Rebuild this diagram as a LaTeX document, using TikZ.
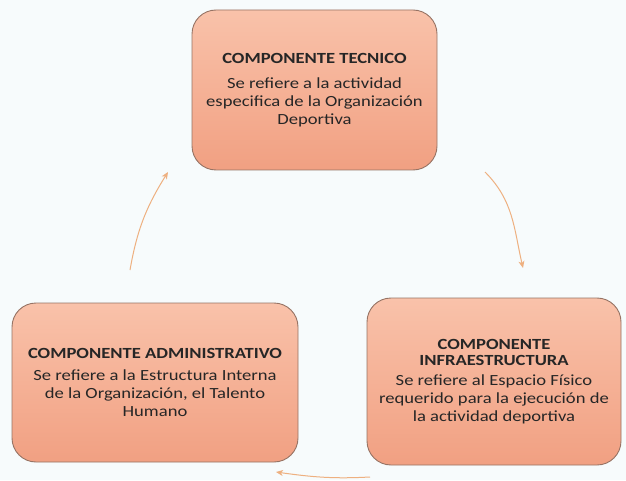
\documentclass[tikz,border=0pt]{standalone}
\usepackage{fontspec}
\setmainfont{Carlito}[FakeStretch=1.2]
\usetikzlibrary{arrows.meta}
\definecolor{fondo}{RGB}{247,251,252}
\definecolor{slx}{RGB}{249,194,170}
\definecolor{srx}{RGB}{241,160,130}
\definecolor{brx}{RGB}{150,115,100}
\definecolor{orx}{RGB}{238,176,128}
\tikzset{
    caja/.style={draw=brx,line width=0.9pt,rounded corners=24pt,top color=slx,bottom color=srx,
        align=center,inner sep=0pt,text=black!85,font=\fontsize{15.5}{17.8}\selectfont},
    flecha/.style={orx,line width=1pt,-{Stealth[length=7pt,width=6pt,inset=2pt]}}
}
\newcommand{\titulo}[1]{{\bfseries #1}}

\begin{document}
\begin{tikzpicture}[x=1pt,y=1pt]
            \fill [fondo] (0,0) rectangle (626,480);
            \useasboundingbox (0,0) rectangle (626,480);
            \node [caja,minimum width=245pt,minimum height=160pt] (tec) at (314.5,390)
                {\titulo{COMPONENTE TECNICO}\\[8pt]
                 Se refiere a la actividad\\
                 especifica de la Organización\\
                 Deportiva};
            \node [caja,minimum width=254pt,minimum height=167pt] (inf) at (494,98.5)
                {\titulo{COMPONENTE}\\[-2pt]
                 \titulo{INFRAESTRUCTURA}\\[3pt]
                 Se refiere al Espacio Físico\\
                 requerido para la ejecución de\\
                 la actividad deportiva};
            \node [caja,minimum width=286pt,minimum height=159pt] (adm) at (155,97.5)
                {\titulo{COMPONENTE ADMINISTRATIVO}\\[4pt]
                 Se refiere a la Estructura Interna\\
                 de la Organización, el Talento\\
                 Humano};
            \coordinate (t1) at (485,308);
            \coordinate (t2) at (523,212);
            \coordinate (i1) at (370,3);
            \coordinate (i2) at (276,8);
            \coordinate (a1) at (130,210);
            \coordinate (a2) at (168,308);
            \draw [flecha] (t1) to [out=-45,in=103] (t2);
            \draw [flecha] (i1) to [out=183,in=-8] (i2);
            \draw [flecha] (a1) to [out=80,in=-122] (a2);
        \end{tikzpicture}
\end{document}
